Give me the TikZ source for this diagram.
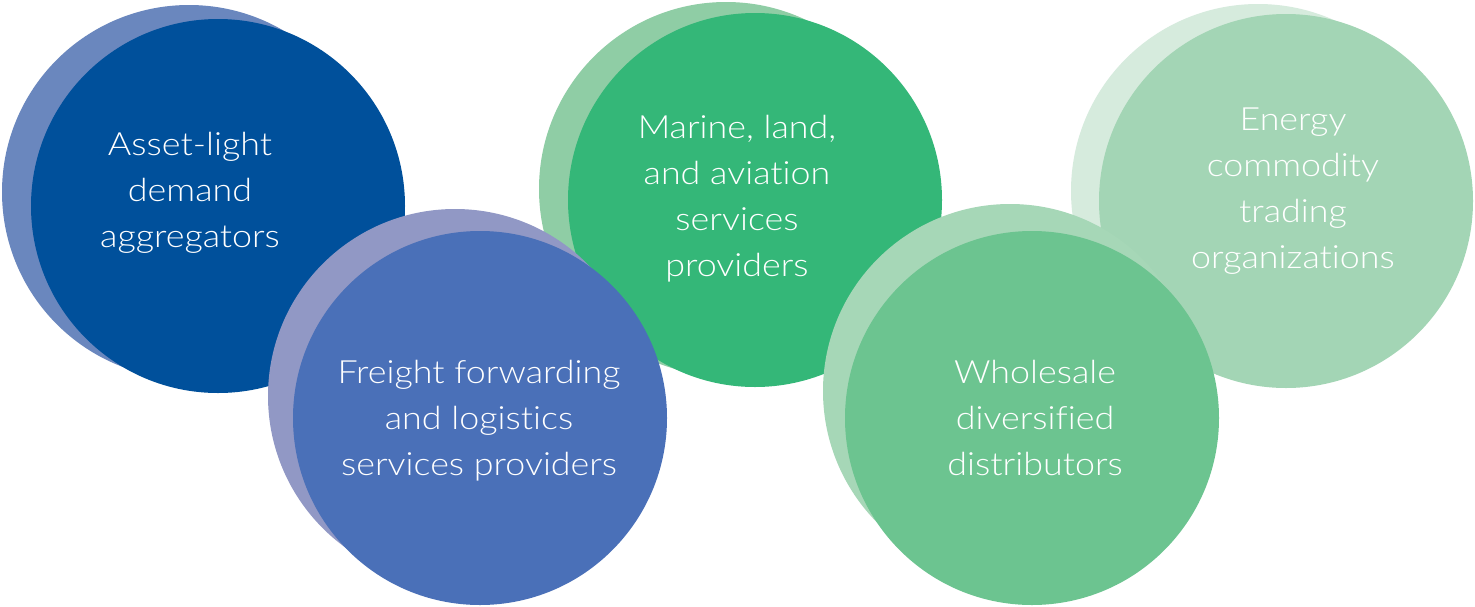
\documentclass[tikz,border=0pt]{standalone}
\usepackage{fontspec}
\setmainfont{Lato}[UprightFont={* Light}, Ligatures={NoCommon,NoRare}, FakeStretch=1.12]
\definecolor{cAm}{RGB}{0,80,155}
\definecolor{cAs}{RGB}{106,135,190}
\definecolor{cBm}{RGB}{74,112,184}
\definecolor{cBs}{RGB}{145,152,197}
\definecolor{cCm}{RGB}{52,183,120}
\definecolor{cCs}{RGB}{143,205,165}
\definecolor{cDm}{RGB}{108,196,144}
\definecolor{cDs}{RGB}{166,215,183}
\definecolor{cEm}{RGB}{163,213,181}
\definecolor{cEs}{RGB}{214,235,221}
\tikzset{
  disc/.style={circle, inner sep=0pt, minimum size=374pt, draw=none, fill=#1},
  lbl/.style={text=white, align=center, anchor=base, font=\fontsize{32}{46}\selectfont}
}
\begin{document}
\begin{tikzpicture}[x=1pt,y=-1pt]
\useasboundingbox[fill=white] (0,0) rectangle (1475,606);
% top row
\node[disc=cAs] (s1) at (189,192) {};
\node[disc=cAm] (c1) at (218,206) {};
\node[disc=cCs] (s3) at (726,189) {};
\node[disc=cCm] (c3) at (755,200) {};
\node[disc=cEs] (s5) at (1258,191) {};
\node[disc=cEm] (c5) at (1286,201) {};
% bottom row
\node[disc=cBs] (s2) at (455,396) {};
\node[disc=cBm] (c2) at (480,418) {};
\node[disc=cDs] (s4) at (1010,391) {};
\node[disc=cDm] (c4) at (1032,418) {};
% labels (anchor = baseline of last line)
\node[lbl] (t1) at (190,247) {Asset-light\\demand\\aggregators};
\node[lbl] (t2) at (479,475) {Freight forwarding\\and logistics\\services providers};
\node[lbl] (t3) at (737,276) {Marine, land,\\and aviation\\services\\providers};
\node[lbl] (t4) at (1035,475) {Wholesale\\diversified\\distributors};
\node[lbl] (t5) at (1293,268) {Energy\\commodity\\trading\\organizations};
\end{tikzpicture}
\end{document}
